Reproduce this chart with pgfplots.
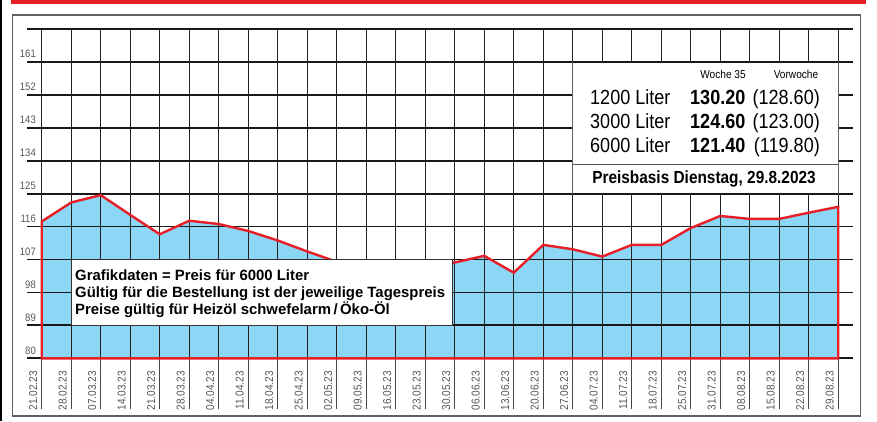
\documentclass[border=0pt]{standalone}
\usepackage{fontspec}
\setmainfont{Liberation Sans}
\newfontfamily\cond[FakeStretch=0.88]{Liberation Sans}
\usepackage{pgfplots}
\pgfplotsset{compat=1.18}
\usepackage{pgfplotstable}
\definecolor{hred}{RGB}{232,30,38}
\definecolor{hblue}{RGB}{140,214,246}
\definecolor{gridk}{RGB}{25,25,25}
\definecolor{gridv}{RGB}{35,35,35}
\definecolor{labg}{RGB}{85,85,85}

\pgfplotstableread{
i v
0 117.4
1 122.6
2 124.6
3 119.2
4 113.9
5 117.6
6 116.7
7 114.8
8 112.2
9 109.2
10 106.4
11 104.8
12 103.9
13 104.6
14 106.2
15 108.0
16 103.4
17 111.0
18 109.8
19 107.8
20 111.0
21 111.0
22 115.6
23 118.9
24 118.1
25 118.1
26 119.8
27 121.4
}\data

\pgfplotsset{geom/.style={at={(27pt,-358.3pt)}, anchor=south west, width=826pt, height=329.3pt, scale only axis,
 xmin=-0.5, xmax=27.5, ymin=80, ymax=170}}

\begin{document}
\begin{tikzpicture}
\path[use as bounding box] (0pt,0pt) rectangle (877pt,-421pt);
\begin{scope}[x=1pt,y=-1pt]
\fill[hred] (11,0) rectangle (866,4.2);
\draw[black, line width=1.5pt] (0.75,0) -- (0.75,421);
\draw[gray!75!black, line width=1.3pt] (12.5,15) rectangle (860.5,416);
\foreach \i in {0,...,27} \draw[gray!55!black, line width=1.1pt] ({41.75+29.5*\i},358.3) -- ({41.75+29.5*\i},409);
\end{scope}

\begin{axis}[geom,
 axis on top, axis line style={draw=none}, major tick length=0pt,
 xtick={0,...,27},
 xticklabels={21.02.23,28.02.23,07.03.23,14.03.23,21.03.23,28.03.23,04.04.23,11.04.23,18.04.23,25.04.23,02.05.23,09.05.23,16.05.23,23.05.23,30.05.23,06.06.23,13.06.23,20.06.23,27.06.23,04.07.23,11.07.23,18.07.23,25.07.23,31.07.23,08.08.23,15.08.23,22.08.23,29.08.23},
 ytick={80,89,...,170},
 yticklabels={80,89,98,107,116,125,134,143,152,161,{}},
 xmajorgrids=true, ymajorgrids=true,
 major grid style={draw=gridk, line width=1.8pt},
 x grid style={draw=gridv, line width=1.4pt},
 y grid style={draw=gridk, line width=1.8pt},
 xticklabel style={font=\cond\fontsize{11.4}{12}\selectfont, text=labg, rotate=90, anchor=south east, inner xsep=12.7pt, inner ysep=4.4pt},
 yticklabel style={font=\cond\fontsize{10.8}{11}\selectfont, text=labg, anchor=south east, inner sep=0pt, xshift=9pt, yshift=4pt},
]
\addplot[fill=hblue, draw=none] table[x=i, y=v] {\data} \closedcycle;
\end{axis}

\begin{axis}[geom, hide axis, clip=false]
\addplot[hred, line width=2.4pt, line join=miter, line cap=rect, mark=none] coordinates {
(0,80) (0,117.4) (1,122.6) (2,124.6) (3,119.2) (4,113.9) (5,117.6) (6,116.7) (7,114.8) (8,112.2) (9,109.2)
(10,106.4) (11,104.8) (12,103.9) (13,104.6) (14,106.2) (15,108.0) (16,103.4) (17,111.0) (18,109.8) (19,107.8)
(20,111.0) (21,111.0) (22,115.6) (23,118.9) (24,118.1) (25,118.1) (26,119.8) (27,121.4) (27,80) (0,80)};
\end{axis}

\begin{scope}[x=1pt,y=-1pt, every node/.style={inner sep=0pt}]
% legend box
\fill[white] (572.75,62) rectangle (838.25,193.7);
\draw[gray!75!black, line width=1pt] (572.75,62) -- (572.75,193.7) (838.25,62) -- (838.25,193.7);
\draw[gridk, line width=1.8pt] (572.75,61.9) -- (838.25,61.9) (572.75,193.8) -- (838.25,193.8);
\draw[gray!70!black, line width=0.9pt] (572.75,164) -- (838.25,164);
\node[anchor=base, font=\cond\fontsize{11.5}{12}\selectfont] at (723,78.3) {Woche 35};
\node[anchor=base, font=\cond\fontsize{11.5}{12}\selectfont] at (796,78.3) {Vorwoche};
\foreach \y/\a/\b/\c in {104/1200/130.20/128.60, 128.4/3000/124.60/123.00, 152.7/6000/121.40/119.80} {
  \node[anchor=base west, font=\cond\fontsize{20.5}{22}\selectfont] at (590,\y) {\a{} Liter};
  \node[anchor=base west, font=\cond\bfseries\fontsize{20.5}{22}\selectfont] at (690,\y) {\b};
  \node[anchor=base east, font=\cond\fontsize{20.5}{22}\selectfont] at (820,\y) {(\c)};
}
\node[anchor=base, font=\cond\bfseries\fontsize{17.5}{19}\selectfont] at (704,183.3) {Preisbasis Dienstag, 29.8.2023};
% text box
\fill[white] (71.25,259.5) rectangle (452.3,325.4);
\draw[black!80, line width=1.1pt] (71.25,259.5) rectangle (452.3,325.4);
\node[anchor=base west, font=\bfseries\fontsize{14.9}{17}\selectfont] at (75,280.7) {Grafikdaten = Preis für 6000 Liter};
\node[anchor=base west, font=\bfseries\fontsize{14.9}{17}\selectfont] at (75,297.5) {Gültig für die Bestellung ist der jeweilige Tagespreis};
\node[anchor=base west, font=\bfseries\fontsize{14.9}{17}\selectfont] at (75,314.3) {Preise gültig für Heizöl schwefelarm\,/\,Öko-Öl};
\end{scope}
\end{tikzpicture}
\end{document}
